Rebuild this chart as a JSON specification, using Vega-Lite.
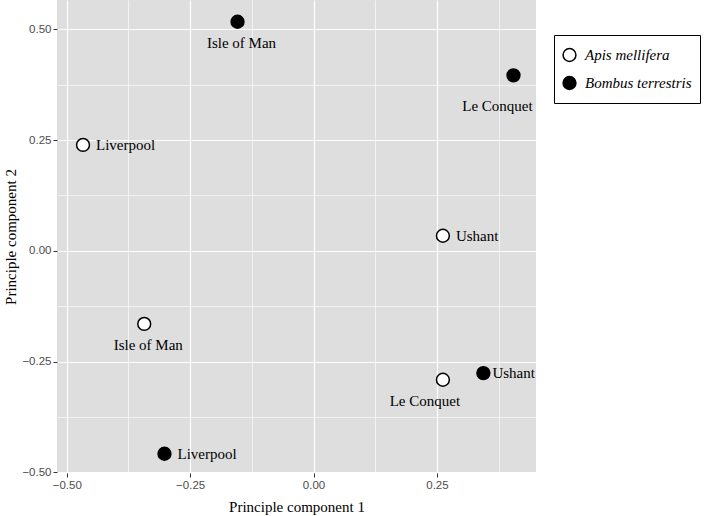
{
  "$schema": "https://vega.github.io/schema/vega-lite/v6.json",
  "width": 479,
  "height": 473,
  "autosize": {"type": "none"},
  "padding": {"left": 57, "top": 0, "right": 173, "bottom": 43},
  "background": "white",
  "config": {
    "view": {"fill": "#dedede", "stroke": null},
    "axis": {
      "domain": false,
      "grid": true,
      "gridColor": "white",
      "gridWidth": {"condition": {"test": "abs(datum.value*4 - round(datum.value*4)) > 0.01", "value": 0.6}, "value": 1.2},
      "tickColor": "#333333",
      "tickSize": 4,
      "tickOpacity": {"condition": {"test": "abs(datum.value*4 - round(datum.value*4)) > 0.01", "value": 0}, "value": 1},
      "labelFont": "Liberation Sans",
      "labelFontSize": 11.5,
      "labelColor": "#4d4d4d",
      "labelPadding": 2,
      "labelExpr": "abs(datum.value*4 - round(datum.value*4)) < 0.01 ? format(datum.value, '.2f') : ''",
      "titleFont": "Liberation Serif",
      "titleFontSize": 15,
      "titleFontWeight": "normal",
      "titleColor": "black"
    }
  },
  "data": {
    "values": [
      {"name": "Liverpool", "species": "Apis mellifera", "pc1": -0.467, "pc2": 0.239},
      {"name": "Ushant", "species": "Apis mellifera", "pc1": 0.262, "pc2": 0.034},
      {"name": "Isle of Man", "species": "Apis mellifera", "pc1": -0.343, "pc2": -0.165},
      {"name": "Le Conquet", "species": "Apis mellifera", "pc1": 0.262, "pc2": -0.291},
      {"name": "Isle of Man", "species": "Bombus terrestris", "pc1": -0.154, "pc2": 0.517},
      {"name": "Le Conquet", "species": "Bombus terrestris", "pc1": 0.405, "pc2": 0.396},
      {"name": "Ushant", "species": "Bombus terrestris", "pc1": 0.344, "pc2": -0.276},
      {"name": "Liverpool", "species": "Bombus terrestris", "pc1": -0.302, "pc2": -0.458}
    ]
  },
  "encoding": {
    "x": {
      "field": "pc1", "type": "quantitative",
      "scale": {"domain": [-0.5197, 0.4506], "nice": false, "zero": false},
      "axis": {"title": "Principle component 1", "values": [-0.5, -0.375, -0.25, -0.125, 0, 0.125, 0.25, 0.375], "titlePadding": 9}
    },
    "y": {
      "field": "pc2", "type": "quantitative",
      "scale": {"domain": [-0.5014, 0.566], "nice": false, "zero": false},
      "axis": {"title": "Principle component 2", "values": [-0.5, -0.375, -0.25, -0.125, 0, 0.125, 0.25, 0.375, 0.5], "titlePadding": 3}
    }
  },
  "layer": [
    {
      "mark": {"type": "circle", "size": 165, "stroke": "black", "strokeWidth": 1.5, "opacity": 1},
      "encoding": {
        "fill": {
          "field": "species", "type": "nominal",
          "scale": {"domain": ["Apis mellifera", "Bombus terrestris"], "range": ["white", "black"]},
          "legend": {
            "title": null,
            "orient": "none",
            "legendX": 497,
            "legendY": 35,
            "strokeColor": "black",
            "fillColor": "white",
            "padding": 8,
            "clipHeight": 24,
            "rowPadding": 4,
            "labelOffset": 8,
            "symbolSize": 165,
            "symbolStrokeColor": "black",
            "symbolStrokeWidth": 1.5,
            "symbolType": "circle",
            "labelFont": "Liberation Serif",
            "labelFontStyle": "italic",
            "labelFontSize": 15,
            "labelColor": "black"
          }
        }
      }
    },
    {
      "transform": [{"filter": "datum.name == 'Liverpool' || (datum.name == 'Ushant' && datum.species == 'Apis mellifera')"}],
      "mark": {"type": "text", "align": "left", "baseline": "middle", "dx": 13, "font": "Liberation Serif", "fontSize": 15, "color": "black"},
      "encoding": {"text": {"field": "name"}}
    },
    {
      "transform": [{"filter": "datum.name == 'Ushant' && datum.species == 'Bombus terrestris'"}],
      "mark": {"type": "text", "align": "left", "baseline": "middle", "dx": 9, "font": "Liberation Serif", "fontSize": 15, "color": "black"},
      "encoding": {"text": {"field": "name"}}
    },
    {
      "transform": [{"filter": "datum.name == 'Isle of Man'"}],
      "mark": {"type": "text", "align": "center", "baseline": "middle", "dx": 4, "dy": 21, "font": "Liberation Serif", "fontSize": 15, "color": "black"},
      "encoding": {"text": {"field": "name"}}
    },
    {
      "transform": [{"filter": "datum.name == 'Le Conquet' && datum.species == 'Apis mellifera'"}],
      "mark": {"type": "text", "align": "center", "baseline": "middle", "dx": -18, "dy": 21, "font": "Liberation Serif", "fontSize": 15, "color": "black"},
      "encoding": {"text": {"field": "name"}}
    },
    {
      "transform": [{"filter": "datum.name == 'Le Conquet' && datum.species == 'Bombus terrestris'"}],
      "mark": {"type": "text", "align": "center", "baseline": "middle", "dx": -16, "dy": 31, "font": "Liberation Serif", "fontSize": 15, "color": "black"},
      "encoding": {"text": {"field": "name"}}
    }
  ]
}
